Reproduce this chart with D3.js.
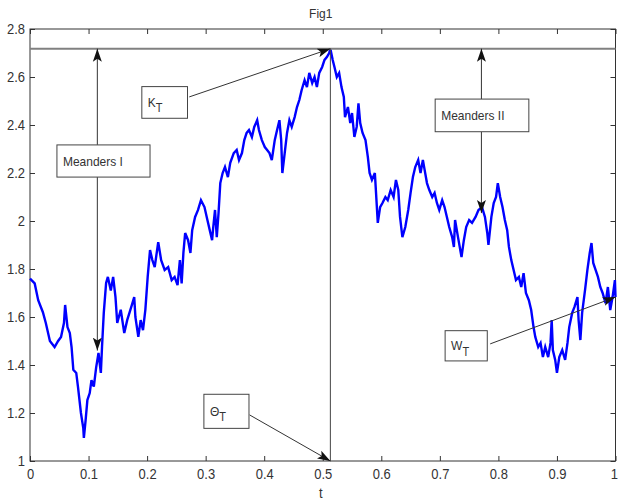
<!DOCTYPE html>
<html>
<head>
<meta charset="utf-8">
<script src="https://d3js.org/d3.v7.min.js"></script>
<style>
  body { margin: 0; background: #fff; }
  svg text {
    font-family: Arial, "Liberation Sans", Helvetica, sans-serif;
    fill: #333;
    transform-box: fill-box;
    transform-origin: center;
    transform: scaleY(1.12);
  }
</style>
</head>
<body>
<script>
'use strict';
(function() {

  const tValues = [
    0, 0.008, 0.014, 0.022, 0.027, 0.034, 0.042, 0.048, 0.053, 0.058, 0.060, 0.064, 0.068, 0.071, 0.074,
    0.079, 0.082, 0.087, 0.091, 0.092, 0.095, 0.098, 0.102, 0.105, 0.109, 0.113, 0.117, 0.121, 0.123, 0.126,
    0.130, 0.133, 0.138, 0.142, 0.146, 0.149, 0.155, 0.161, 0.166, 0.173, 0.178, 0.180, 0.185, 0.189, 0.193,
    0.197, 0.201, 0.205, 0.209, 0.213, 0.219, 0.224, 0.230, 0.236, 0.242, 0.247, 0.252, 0.256, 0.259, 0.262,
    0.265, 0.270, 0.274, 0.277, 0.282, 0.287, 0.292, 0.298, 0.303, 0.307, 0.311, 0.313, 0.316, 0.319, 0.322,
    0.325, 0.329, 0.333, 0.338, 0.342, 0.348, 0.353, 0.357, 0.362, 0.366, 0.370, 0.374, 0.379, 0.383, 0.388,
    0.391, 0.396, 0.401, 0.405, 0.409, 0.413, 0.418, 0.422, 0.426, 0.429, 0.431, 0.435, 0.439, 0.443, 0.447,
    0.452, 0.456, 0.460, 0.464, 0.469, 0.473, 0.477, 0.482, 0.486, 0.490, 0.494, 0.499, 0.503, 0.507, 0.511,
    0.513, 0.517, 0.520, 0.524, 0.528, 0.532, 0.536, 0.538, 0.543, 0.547, 0.550, 0.554, 0.558, 0.561, 0.564,
    0.568, 0.573, 0.577, 0.580, 0.584, 0.589, 0.591, 0.594, 0.598, 0.602, 0.607, 0.611, 0.616, 0.621, 0.625,
    0.629, 0.632, 0.636, 0.641, 0.646, 0.650, 0.654, 0.658, 0.663, 0.667, 0.671, 0.674, 0.678, 0.682, 0.687,
    0.691, 0.695, 0.699, 0.704, 0.708, 0.712, 0.716, 0.721, 0.724, 0.726, 0.731, 0.737, 0.741, 0.745, 0.750,
    0.755, 0.761, 0.766, 0.772, 0.777, 0.781, 0.783, 0.788, 0.792, 0.796, 0.799, 0.803, 0.807, 0.811, 0.815,
    0.818, 0.822, 0.826, 0.830, 0.835, 0.839, 0.843, 0.847, 0.852, 0.856, 0.860, 0.863, 0.868, 0.872, 0.876,
    0.880, 0.885, 0.889, 0.891, 0.893, 0.897, 0.900, 0.904, 0.909, 0.914, 0.918, 0.921, 0.926, 0.930, 0.935,
    0.937, 0.940, 0.943, 0.948, 0.952, 0.956, 0.959, 0.962, 0.966, 0.970, 0.974, 0.978, 0.983, 0.987, 0.991,
    0.995, 0.999, 1.0
  ];
  const wValues = [
    1.76, 1.74, 1.67, 1.62, 1.575, 1.50, 1.475, 1.50, 1.517, 1.575, 1.65, 1.558, 1.533, 1.475, 1.38,
    1.367, 1.308, 1.20, 1.137, 1.096, 1.17, 1.254, 1.283, 1.337, 1.31, 1.39, 1.45, 1.367, 1.475, 1.617,
    1.742, 1.767, 1.71, 1.767, 1.683, 1.575, 1.63, 1.533, 1.587, 1.642, 1.683, 1.60, 1.517, 1.587, 1.545,
    1.63, 1.767, 1.879, 1.837, 1.808, 1.912, 1.837, 1.796, 1.808, 1.754, 1.767, 1.733, 1.837, 1.74, 1.867,
    1.95, 1.92, 1.867, 1.962, 2.017, 2.046, 2.087, 2.058, 2.004, 1.962, 1.92, 1.975, 2.046, 1.933, 2.033,
    2.158, 2.20, 2.225, 2.183, 2.242, 2.283, 2.296, 2.254, 2.283, 2.337, 2.367, 2.379, 2.35, 2.392, 2.42,
    2.379, 2.337, 2.308, 2.296, 2.283, 2.254, 2.337, 2.379, 2.42, 2.337, 2.20, 2.283, 2.367, 2.42, 2.392,
    2.433, 2.475, 2.504, 2.546, 2.587, 2.558, 2.617, 2.575, 2.60, 2.558, 2.617, 2.642, 2.671, 2.683, 2.70,
    2.718, 2.671, 2.642, 2.60, 2.617, 2.558, 2.517, 2.433, 2.475, 2.408, 2.45, 2.35, 2.392, 2.49, 2.408,
    2.367, 2.337, 2.267, 2.20, 2.171, 2.20, 2.117, 1.992, 2.058, 2.075, 2.10, 2.087, 2.129, 2.10, 2.171,
    2.129, 2.017, 1.933, 1.975, 2.046, 2.117, 2.183, 2.225, 2.254, 2.20, 2.254, 2.213, 2.158, 2.129, 2.10,
    2.117, 2.075, 2.046, 2.087, 2.058, 2.017, 1.975, 1.933, 1.892, 2.004, 1.933, 1.85, 1.92, 1.975, 2.004,
    1.992, 2.017, 2.046, 2.058, 2.017, 1.95, 1.90, 2.017, 2.075, 2.10, 2.158, 2.10, 2.058, 2.004, 1.962,
    1.892, 1.837, 1.796, 1.754, 1.767, 1.725, 1.783, 1.70, 1.67, 1.629, 1.558, 1.517, 1.475, 1.492, 1.433,
    1.475, 1.433, 1.492, 1.587, 1.462, 1.421, 1.367, 1.433, 1.462, 1.421, 1.492, 1.558, 1.617, 1.642, 1.683,
    1.587, 1.504, 1.617, 1.713, 1.796, 1.867, 1.908, 1.825, 1.796, 1.767, 1.725, 1.70, 1.658, 1.725, 1.629,
    1.683, 1.754, 1.683
  ];

  // axis ticks
  const xTicks = [0, 0.1, 0.2, 0.3, 0.4, 0.5, 0.6, 0.7, 0.8, 0.9, 1];
  const xTickLabels = ["0", "0.1", "0.2", "0.3", "0.4", "0.5", "0.6", "0.7", "0.8", "0.9", "1"];
  const yTicks = [1, 1.2, 1.4, 1.6, 1.8, 2, 2.2, 2.4, 2.6, 2.8];
  const yTickLabels = ["1", "1.2", "1.4", "1.6", "1.8", "2", "2.2", "2.4", "2.6", "2.8"];

  // key values marked on the figure
  const maxLevel = 2.718;   // K_T
  const maxTime = 0.513;    // Theta_T
  const endTime = 1;
  const endLevel = 1.683;   // W_T
  const meanderTimes = [0.115, 0.771];
  const meanderLevels = [1.46, 2.033];

  // texts
  const titleText = "Fig1";
  const xLabelText = "t";
  const boxLabels = ["Meanders I", "K", "Meanders II", "\u0398", "W"];
  const boxSubs = ["", "T", "", "T", "T"];

  let svg = "";
  let x = null;
  let y = null;

  window.onload = function() {
    svg = d3.select('body')
      .append('svg')
      .attr('width', 618)
      .attr('height', 504);

    makeMarker();
    drawAxes();
    plotPath();
    drawGuides();
    drawAnnotations();
    drawLabels();
  };

  // arrow head used by all annotation arrows
  function makeMarker() {
    svg.append('defs').append('marker')
      .attr('id', 'head')
      .attr('viewBox', '0 -5 14 10')
      .attr('refX', 13)
      .attr('refY', 0)
      .attr('markerWidth', 14)
      .attr('markerHeight', 10)
      .attr('markerUnits', 'userSpaceOnUse')
      .attr('orient', 'auto')
      .append('path')
      .attr('d', 'M0,-4.5L13,0L0,4.5L3,0Z')
      .attr('fill', '#111');
  }

  // scales, box frame and the inward ticks on all four sides
  function drawAxes() {
    x = d3.scaleLinear().domain([0, 1]).range([30, 615.5]);
    y = d3.scaleLinear().domain([1, 2.8]).range([461, 29]);

    let fmtX = (d, i) => xTickLabels[i];
    let fmtY = (d, i) => yTickLabels[i];

    let bottom = svg.append('g')
      .attr('transform', 'translate(0,461)')
      .call(d3.axisBottom(x).tickValues(xTicks).tickFormat(fmtX)
        .tickSizeInner(-5).tickSizeOuter(0).tickPadding(8));
    let left = svg.append('g')
      .attr('transform', 'translate(30,0)')
      .call(d3.axisLeft(y).tickValues(yTicks).tickFormat(fmtY)
        .tickSizeInner(-5).tickSizeOuter(0).tickPadding(5));
    let top = svg.append('g')
      .attr('transform', 'translate(0,29)')
      .call(d3.axisTop(x).tickValues(xTicks).tickFormat('')
        .tickSizeInner(-5).tickSizeOuter(0));
    let right = svg.append('g')
      .attr('transform', 'translate(615.5,0)')
      .call(d3.axisRight(y).tickValues(yTicks).tickFormat('')
        .tickSizeInner(-5).tickSizeOuter(0));

    [bottom, left, top, right].forEach((g) => {
      g.select('.domain').remove();
      g.selectAll('line').attr('stroke', '#333');
      g.selectAll('text')
        .style('font-size', '13px')
        .attr('fill', '#333');
    });

    // last label sits against the right edge of the figure
    bottom.selectAll('.tick text')
      .filter((d, i) => i === xTicks.length - 1)
      .attr('text-anchor', 'end')
      .attr('x', 2);

    svg.append('rect')
      .attr('x', x(0))
      .attr('y', y(2.8))
      .attr('width', x(1) - x(0))
      .attr('height', y(1) - y(2.8))
      .attr('fill', 'none')
      .attr('stroke', '#333')
      .attr('stroke-width', 1);
  }

  // the blue path
  function plotPath() {
    let line = d3.line()
      .x((d) => x(d[0]))
      .y((d) => y(d[1]));

    svg.append('path')
      .datum(d3.zip(tValues, wValues))
      .attr('fill', 'none')
      .attr('stroke', '#0000ff')
      .attr('stroke-width', 2.4)
      .attr('stroke-linejoin', 'miter')
      .attr('d', line);
  }

  // level line at the maximum and the vertical line at its time
  function drawGuides() {
    svg.append('line')
      .attr('x1', x(0)).attr('x2', x(1))
      .attr('y1', y(maxLevel)).attr('y2', y(maxLevel))
      .attr('stroke', '#808080')
      .attr('stroke-width', 2);

    svg.append('line')
      .attr('x1', x(maxTime)).attr('x2', x(maxTime))
      .attr('y1', y(maxLevel)).attr('y2', y(1))
      .attr('stroke', '#444')
      .attr('stroke-width', 1);
  }

  function arrow(t0, w0, t1, w1) {
    svg.append('line')
      .attr('x1', x(t0)).attr('y1', y(w0))
      .attr('x2', x(t1)).attr('y2', y(w1))
      .attr('stroke', '#333')
      .attr('stroke-width', 1)
      .attr('marker-end', 'url(#head)');
  }

  function textBox(i, t0, t1, w0, w1) {
    svg.append('rect')
      .attr('x', x(t0))
      .attr('y', y(w1))
      .attr('width', x(t1) - x(t0))
      .attr('height', y(w0) - y(w1))
      .attr('fill', '#fff')
      .attr('stroke', '#444')
      .attr('stroke-width', 1);

    let label = svg.append('text')
      .attr('x', x(t0) + 6)
      .attr('y', (y(w0) + y(w1)) / 2 + 4)
      .style('font-size', '12px');
    label.append('tspan').text(boxLabels[i]);
    if (boxSubs[i] !== "") {
      label.append('tspan')
        .attr('dy', 5)
        .style('font-size', '11px')
        .text(boxSubs[i]);
    }
  }

  function drawAnnotations() {
    // Meanders I
    arrow(meanderTimes[0], 2.317, meanderTimes[0], maxLevel);
    arrow(meanderTimes[0], 2.183, meanderTimes[0], meanderLevels[0]);
    textBox(0, 0.046, 0.205, 2.183, 2.317);

    // K_T
    arrow(0.272, 2.517, maxTime, maxLevel);
    textBox(1, 0.191, 0.269, 2.428, 2.56);

    // Meanders II
    arrow(meanderTimes[1], 2.508, meanderTimes[1], maxLevel);
    arrow(meanderTimes[1], 2.372, meanderTimes[1], meanderLevels[1]);
    textBox(2, 0.692, 0.852, 2.372, 2.508);

    // Theta_T
    arrow(0.375, 1.192, maxTime, 1);
    textBox(3, 0.297, 0.374, 1.136, 1.278);

    // W_T
    arrow(0.786, 1.488, endTime, endLevel);
    textBox(4, 0.709, 0.781, 1.417, 1.543);
  }

  function drawLabels() {
    let mid = (x(0) + x(1)) / 2;
    svg.append('text')
      .attr('x', mid - 2)
      .attr('y', 17)
      .attr('text-anchor', 'middle')
      .style('font-size', '12px')
      .text(titleText);

    svg.append('text')
      .attr('x', mid - 2)
      .attr('y', 497)
      .attr('text-anchor', 'middle')
      .style('font-size', '13px')
      .text(xLabelText);
  }

})();
</script>
</body>
</html>
